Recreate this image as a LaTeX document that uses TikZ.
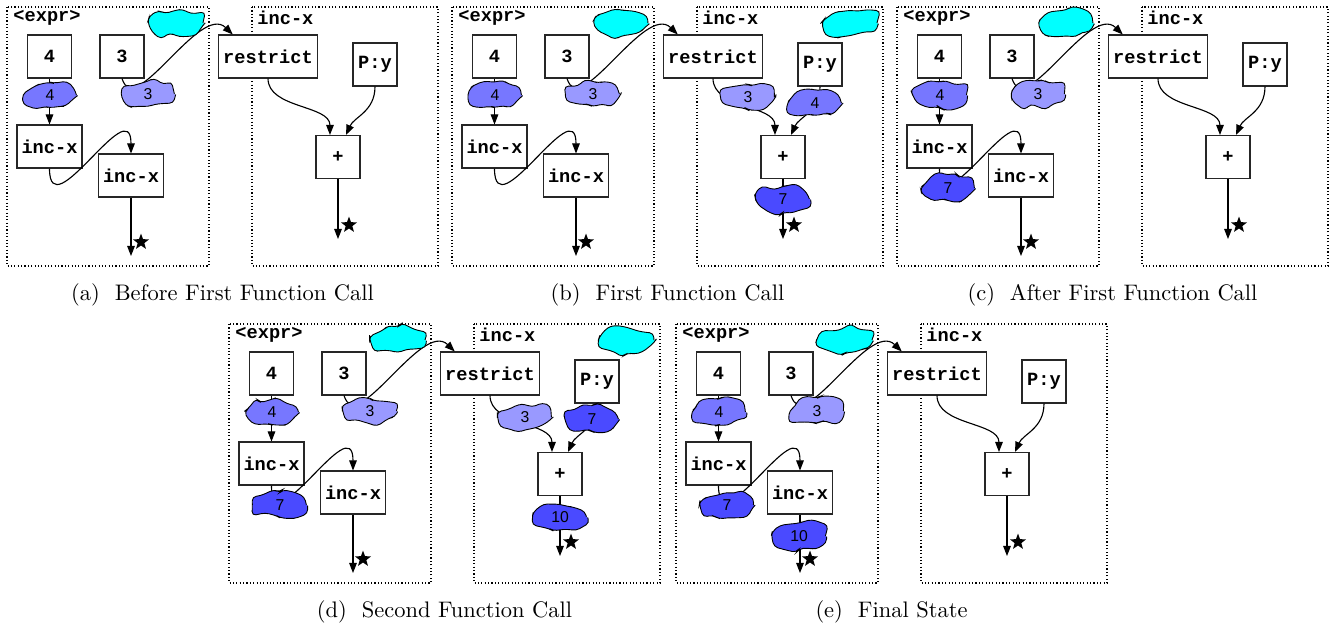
\documentclass[tikz,border=0pt]{standalone}
\usepackage{fontspec}
\newfontfamily\boxfont{Liberation Mono}
\newfontfamily\valfont{Liberation Sans}
\usetikzlibrary{arrows.meta,shapes.geometric,decorations.pathmorphing}

\definecolor{envcyan}{RGB}{0,255,255}
\definecolor{paleblue}{HTML}{9999FF}
\definecolor{midblue}{HTML}{7777FF}
\definecolor{deepblue}{HTML}{4A4AFF}

\tikzset{
  frame/.style={densely dotted, line width=0.5pt},
  blk/.style={draw=black!85, fill=white, line width=0.5pt, minimum width=19.6pt,
    minimum height=19.1pt, inner xsep=2pt, font=\boxfont\bfseries\fontsize{8.3}{10}\selectfont},
  lbl/.style={anchor=west, inner sep=0pt, font=\boxfont\bfseries\fontsize{8.3}{10}\selectfont},
  val/.style={draw=black, line width=0.4pt, ellipse, minimum width=23.5pt, minimum height=11.2pt,
    inner sep=0pt, decorate, decoration={random steps, segment length=4pt, amplitude=1.6pt},
    rounded corners=1.8pt, font=\valfont\fontsize{7}{8}\selectfont},
  envval/.style={val, fill=envcyan, minimum width=24pt},
  paleval/.style={val, fill=paleblue},
  midval/.style={val, fill=midblue},
  deepval/.style={val, fill=deepblue},
  flow/.style={line width=0.5pt, -{Triangle[length=4.5pt,width=3.4pt]}},
  outstar/.style={star, star points=5, star point ratio=2.4, fill=black, minimum size=7.5pt, inner sep=0pt},
  subcap/.style={font=\fontsize{10}{12}\selectfont}
}

% one panel: name, shift x, shift y, caption, extra values
\newcommand\drawpanel[5]{%
  \begin{scope}[shift={(#2,#3)}]
    \draw[frame] (7,7) rectangle (209,266);
    \draw[frame] (252,7) rectangle (438,266);
    \node[lbl] (#1-exprlbl) at (13,18) {<expr>};
    \node[lbl] (#1-inclbl) at (257,18) {inc-x};

    \node[blk] (#1-four) at (49.5,56.5) {4};
    \node[blk] (#1-three) at (122,56.5) {3};
    \node[blk] (#1-incA) at (49.5,146.5) {inc-x};
    \node[blk] (#1-incB) at (131,175.5) {inc-x};
    \coordinate (#1-outA) at (131,256);
    \node[outstar] (#1-starA) at (141,242) {};

    \node[blk] (#1-restrict) at (268,56.5) {restrict};
    \node[blk] (#1-py) at (375,64.5) {P:y};
    \node[blk] (#1-plus) at (338,157) {+};
    \coordinate (#1-outB) at (338,239);
    \node[outstar] (#1-starB) at (349,225) {};

    \draw[flow] (#1-four) -- (#1-incA);
    \draw[flow] (#1-three.south) .. controls +(13,42) and +(-33,-32) .. (#1-restrict.148);
    \draw[flow] (#1-incA.south) .. controls +(0,62) and +(0,-64) .. (#1-incB.north);
    \draw[flow] (#1-incB) -- (#1-outA);
    \draw[flow] (#1-restrict.south) .. controls +(0,30) and +(0,-30) .. (#1-plus.110);
    \draw[flow] (#1-py.south) .. controls +(0,25) and +(8,-18) .. (#1-plus.70);
    \draw[flow] (#1-plus) -- (#1-outB);

    \node[envval] (#1-env) at (176,23) {};
    \node[midval] (#1-v4) at (50,95) {4};
    \node[paleval] (#1-v3) at (148,94) {3};
    #5
    \node[subcap] (#1-cap) at (222.5,295) {#4};
  \end{scope}}

\begin{document}
\begin{tikzpicture}[x=0.445pt, y=-0.445pt]
  \useasboundingbox (0,0) rectangle (1338,627);

  \drawpanel{a}{0}{0}{(a)\ \ Before First Function Call}{}

  \drawpanel{b}{445}{0}{(b)\ \ First Function Call}{
    \node[envval] (b-env2) at (405,23) {};
    \node[paleval] (b-x) at (303,97) {3};
    \node[midval] (b-y) at (370,103) {4};
    \node[deepval] (b-sum) at (338,199) {7};
  }

  \drawpanel{c}{890}{0}{(c)\ \ After First Function Call}{
    \node[deepval] (c-r1) at (58,188) {7};
  }

  \drawpanel{d}{222}{317}{(d)\ \ Second Function Call}{
    \node[deepval] (d-r1) at (58,188) {7};
    \node[envval] (d-env2) at (405,23) {};
    \node[paleval] (d-x) at (303,100) {3};
    \node[deepval] (d-y) at (370,102) {7};
    \node[deepval] (d-sum) at (338,200) {10};
  }

  \drawpanel{e}{669}{317}{(e)\ \ Final State}{
    \node[deepval] (e-r1) at (58,188) {7};
    \node[deepval] (e-r2) at (130,219) {10};
  }
\end{tikzpicture}
\end{document}
